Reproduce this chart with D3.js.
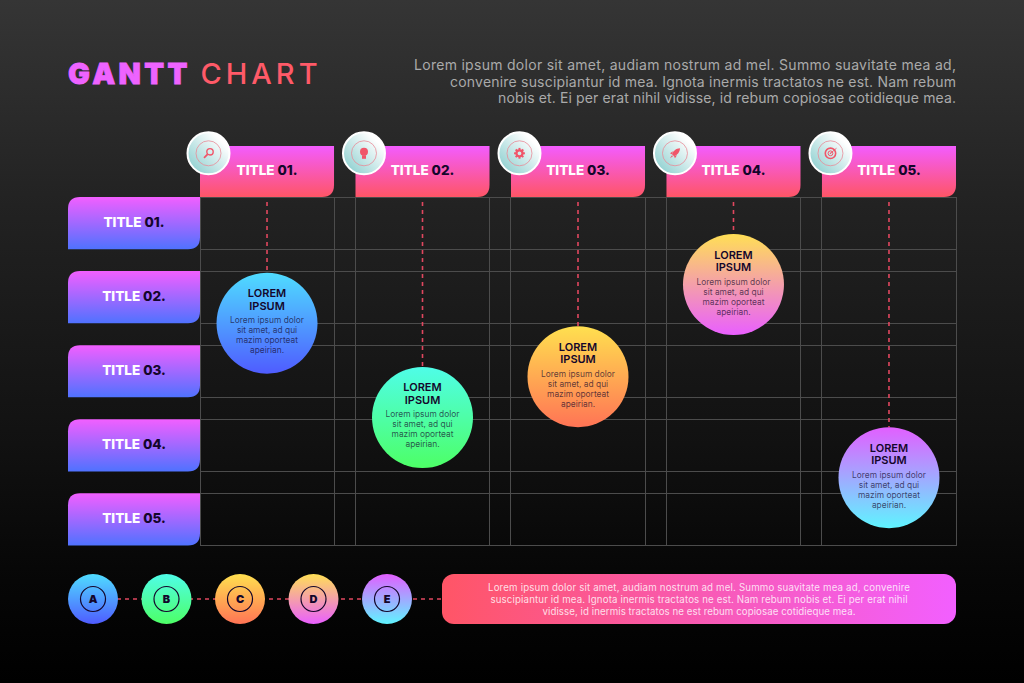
<!DOCTYPE html>
<html>
<head>
<meta charset="utf-8">
<script src="https://d3js.org/d3.v7.min.js"></script>
<style>
html, body { margin: 0; padding: 0; background: #000; }
svg { display: block; }
text { font-family: Inter, "Open Sans", sans-serif; }
</style>
</head>
<body>
<div id="svg1"></div>
<script>
var columnTitles = ["01.", "02.", "03.", "04.", "05."];
var rowTitles = ["01.", "02.", "03.", "04.", "05."];
var iconNames = ["search", "bulb", "gear", "rocket", "target"];
// where each event bubble hangs, in row units from the top of the grid
var eventRows = [1.70, 2.97, 2.42, 1.18, 3.78];
var legendLetters = ["A", "B", "C", "D", "E"];
var bubbleHeading = ["LOREM", "IPSUM"];
var bubbleBody = ["Lorem ipsum dolor", "sit amet, ad qui", "mazim oporteat", "apeirian."];
var introLines = [
    "Lorem ipsum dolor sit amet, audiam nostrum ad mel. Summo suavitate mea ad,",
    "convenire suscipiantur id mea. Ignota inermis tractatos ne est. Nam rebum",
    "nobis et. Ei per erat nihil vidisse, id rebum copiosae cotidieque mea."
];
var footerLines = [
    "Lorem ipsum dolor sit amet, audiam nostrum ad mel. Summo suavitate mea ad, convenire",
    "suscipiantur id mea. Ignota inermis tractatos ne est. Nam rebum nobis et. Ei per erat nihil",
    "vidisse, id inermis tractatos ne est rebum copiosae cotidieque mea."
];
var palettes = [
    ["#4fdcff", "#4f5cff"],
    ["#4ffde8", "#4dff66"],
    ["#ffe04f", "#ff7455"],
    ["#ffdf55", "#e95fff"],
    ["#e25fff", "#5ff4ff"]
];

var svg_hw = {width: 1024, height: 683};
var BUBBLE_R = 50.5;
var LEGEND_R = 25;
var GRID_COLOR = "#4c4c4c";
var DASH_COLOR = "#e0475f";
var DARK_TEXT = "#14062b";
// Inter runs narrower than the original face, so stretch each line to fit
var INTRO_WIDTHS = [542, 506, 458];
var FOOT_WIDTHS = [422, 417, 313];

var svg = d3.select("#svg1")
    .append("svg")
    .attr("width", svg_hw.width)
    .attr("height", svg_hw.height)
    .attr("viewBox", [0, 0, svg_hw.width, svg_hw.height]);

var defs = svg.append("defs");

function addGradient(id, from, to, x2, y2) {
    var g = defs.append("linearGradient")
        .attr("id", id)
        .attr("x1", 0).attr("y1", 0)
        .attr("x2", x2).attr("y2", y2);
    g.append("stop").attr("offset", "0%").attr("stop-color", from);
    g.append("stop").attr("offset", "100%").attr("stop-color", to);
}

palettes.forEach(function (p, i) {
    addGradient("pal" + i, p[0], p[1], 0, 1);
});
addGradient("headGrad", "#f35cff", "#ff5566", 0, 1);
addGradient("rowGrad", "#f25fff", "#4f72ff", 0, 1);
addGradient("footGrad", "#ff5566", "#f25fff", 1, 0);
addGradient("iconGrad", "#8fd0d0", "#ffffff", 1, 0);
d3.select("#iconGrad").attr("x1", 0.1).attr("y1", 0.9).attr("x2", 0.8).attr("y2", 0.2);

var bg = defs.append("linearGradient")
    .attr("id", "bgGrad")
    .attr("x1", 0).attr("y1", 0).attr("x2", 0).attr("y2", 1);
bg.append("stop").attr("offset", "0%").attr("stop-color", "#353535");
bg.append("stop").attr("offset", "30%").attr("stop-color", "#222222");
bg.append("stop").attr("offset", "65%").attr("stop-color", "#111111");
bg.append("stop").attr("offset", "85%").attr("stop-color", "#060606");
bg.append("stop").attr("offset", "100%").attr("stop-color", "#000000");

svg.append("rect")
    .attr("width", svg_hw.width)
    .attr("height", svg_hw.height)
    .attr("fill", "url(#bgGrad)");

// scales
var x = d3.scaleBand()
    .domain(columnTitles)
    .range([200, 956])
    .paddingInner(0.138);
var y = d3.scaleBand()
    .domain(rowTitles)
    .range([197, 545.5])
    .paddingInner(0.295);
var rowPos = d3.scaleLinear()
    .domain([0, 5])
    .range([197, 568.2]);
var legendX = d3.scalePoint()
    .domain(legendLetters)
    .range([93, 387]);

// rect with only some corners rounded
function tab(x0, y0, w, h, r, topLeft) {
    var p = d3.path();
    if (topLeft) {
        p.moveTo(x0 + r, y0);
    } else {
        p.moveTo(x0, y0);
    }
    p.lineTo(x0 + w, y0);
    p.lineTo(x0 + w, y0 + h - r);
    p.quadraticCurveTo(x0 + w, y0 + h, x0 + w - r, y0 + h);
    p.lineTo(x0, y0 + h);
    if (topLeft) {
        p.lineTo(x0, y0 + r);
        p.quadraticCurveTo(x0, y0, x0 + r, y0);
    }
    p.closePath();
    return p.toString();
}

// grid
var grid = svg.append("g")
    .attr("stroke", GRID_COLOR)
    .attr("stroke-width", 1)
    .attr("shape-rendering", "crispEdges");

var yEdges = [];
rowTitles.forEach(function (r) {
    yEdges.push(y(r));
    yEdges.push(y(r) + y.bandwidth());
});
var xEdges = [];
columnTitles.forEach(function (c) {
    xEdges.push(x(c));
    xEdges.push(x(c) + x.bandwidth());
});

grid.selectAll("line.h")
    .data(yEdges)
    .enter()
    .append("line")
    .attr("class", "h")
    .attr("x1", 200)
    .attr("x2", 956)
    .attr("y1", d => d)
    .attr("y2", d => d);

grid.selectAll("line.v")
    .data(xEdges)
    .enter()
    .append("line")
    .attr("class", "v")
    .attr("x1", d => d)
    .attr("x2", d => d)
    .attr("y1", 197)
    .attr("y2", 546);

// title and intro
var title = svg.append("text")
    .attr("x", 68)
    .attr("y", 84)
    .attr("font-size", 29);
title.append("tspan")
    .attr("fill", "#ee63ff")
    .attr("stroke", "#ee63ff")
    .attr("stroke-width", 0.8)
    .attr("font-weight", 900)
    .attr("letter-spacing", 3.4)
    .text("GANTT");
title.append("tspan")
    .attr("fill", "#ff5a68")
    .attr("font-weight", 500)
    .attr("letter-spacing", 4)
    .attr("dx", 9.5)
    .text("CHART");

svg.selectAll("text.intro")
    .data(introLines)
    .enter()
    .append("text")
    .attr("class", "intro")
    .attr("x", 956)
    .attr("y", (d, i) => 70 + i * 16.5)
    .attr("text-anchor", "end")
    .attr("font-size", 14)
    .attr("textLength", (d, i) => INTRO_WIDTHS[i])
    .attr("lengthAdjust", "spacing")
    .attr("fill", "#aaaaaa")
    .text(d => d);

// dashed drop lines
svg.selectAll("line.drop")
    .data(eventRows)
    .enter()
    .append("line")
    .attr("class", "drop")
    .attr("x1", (d, i) => x(columnTitles[i]) + x.bandwidth() / 2)
    .attr("x2", (d, i) => x(columnTitles[i]) + x.bandwidth() / 2)
    .attr("y1", 202)
    .attr("y2", d => rowPos(d) - BUBBLE_R)
    .attr("stroke", DASH_COLOR)
    .attr("stroke-width", 1.6)
    .attr("stroke-dasharray", "4 4");

// column headers
var heads = svg.selectAll("g.head")
    .data(columnTitles)
    .enter()
    .append("g")
    .attr("class", "head")
    .attr("transform", d => "translate(" + x(d) + ",146)");

heads.append("path")
    .attr("d", tab(0, 0, x.bandwidth(), 51, 12, false))
    .attr("fill", "url(#headGrad)");

var headText = heads.append("text")
    .attr("x", x.bandwidth() / 2)
    .attr("y", 29)
    .attr("text-anchor", "middle")
    .attr("font-size", 13.5)
    .attr("font-weight", 800);
headText.append("tspan").attr("fill", "#ffffff").text("TITLE ");
headText.append("tspan").attr("fill", DARK_TEXT).text(d => d);

// icon badges
var badges = heads.append("g")
    .attr("transform", "translate(8.5,7.3)");
badges.append("circle")
    .attr("r", 21)
    .attr("fill", "url(#iconGrad)")
    .attr("stroke", "#ffffff")
    .attr("stroke-width", 2);
badges.append("circle")
    .attr("r", 12.5)
    .attr("fill", "none")
    .attr("stroke", "#e98c98")
    .attr("stroke-width", 0.8);

function drawIcon(g, name) {
    var red = "#f0566a";
    if (name == "search") {
        g.append("circle").attr("cx", 1.5).attr("cy", -1.5).attr("r", 3.2)
            .attr("fill", "none").attr("stroke", red).attr("stroke-width", 1.4);
        g.append("line").attr("x1", -0.8).attr("y1", 0.8).attr("x2", -4.5).attr("y2", 4.5)
            .attr("stroke", red).attr("stroke-width", 1.8);
    } else if (name == "bulb") {
        g.append("circle").attr("cy", -1.5).attr("r", 4).attr("fill", red);
        g.append("rect").attr("x", -2).attr("y", 2).attr("width", 4).attr("height", 3.5).attr("fill", red);
    } else if (name == "gear") {
        g.append("circle").attr("r", 3).attr("fill", "none").attr("stroke", red).attr("stroke-width", 2.2);
        d3.range(8).forEach(function (k) {
            g.append("rect").attr("x", -1).attr("y", -5.4).attr("width", 2).attr("height", 2)
                .attr("fill", red).attr("transform", "rotate(" + k * 45 + ")");
        });
    } else if (name == "rocket") {
        g.append("path").attr("d", "M5,-5 C1,-5 -2,-2 -3,1 L-1,3 C2,2 5,-1 5,-5 Z").attr("fill", red);
        g.append("path").attr("d", "M-5,0 L-2,-2 L-3,1 Z M0,5 L2,2 L-1,3 Z M-5,5 L-3,2 L-2,3 Z").attr("fill", red);
    } else {
        g.append("circle").attr("r", 5.2).attr("fill", "none").attr("stroke", red).attr("stroke-width", 1.6);
        g.append("circle").attr("r", 2.4).attr("fill", "none").attr("stroke", red).attr("stroke-width", 1);
        g.append("circle").attr("r", 0.8).attr("fill", red);
        g.append("line").attr("x1", 0).attr("y1", 0).attr("x2", 6).attr("y2", -5)
            .attr("stroke", red).attr("stroke-width", 0.9);
    }
}
badges.each(function (d, i) {
    drawIcon(d3.select(this), iconNames[i]);
});

// row labels
var rows = svg.selectAll("g.row")
    .data(rowTitles)
    .enter()
    .append("g")
    .attr("class", "row")
    .attr("transform", d => "translate(68," + y(d) + ")");

rows.append("path")
    .attr("d", tab(0, 0, 132, y.bandwidth(), 12, true))
    .attr("fill", "url(#rowGrad)");

var rowText = rows.append("text")
    .attr("x", 66)
    .attr("y", 30)
    .attr("text-anchor", "middle")
    .attr("font-size", 13.5)
    .attr("font-weight", 800);
rowText.append("tspan").attr("fill", "#ffffff").text("TITLE ");
rowText.append("tspan").attr("fill", DARK_TEXT).text(d => d);

// event bubbles
var bubbles = svg.selectAll("g.bubble")
    .data(eventRows)
    .enter()
    .append("g")
    .attr("class", "bubble")
    .attr("transform", (d, i) => "translate(" + (x(columnTitles[i]) + x.bandwidth() / 2) + "," + rowPos(d) + ")");

bubbles.append("circle")
    .attr("r", BUBBLE_R)
    .attr("fill", (d, i) => "url(#pal" + i + ")");

bubbleHeading.forEach(function (line, k) {
    bubbles.append("text")
        .attr("y", -26 + k * 12.3)
        .attr("text-anchor", "middle")
        .attr("font-size", 11)
        .attr("font-weight", 600)
        .attr("fill", DARK_TEXT)
        .text(line);
});
bubbleBody.forEach(function (line, k) {
    bubbles.append("text")
        .attr("y", 0 + k * 10)
        .attr("text-anchor", "middle")
        .attr("font-size", 8.4)
        .attr("fill", DARK_TEXT)
        .attr("fill-opacity", 0.7)
        .text(line);
});

// legend
svg.append("line")
    .attr("x1", legendX("A"))
    .attr("x2", 442)
    .attr("y1", 599)
    .attr("y2", 599)
    .attr("stroke", DASH_COLOR)
    .attr("stroke-width", 1.6)
    .attr("stroke-dasharray", "4 4");

var legend = svg.selectAll("g.legend")
    .data(legendLetters)
    .enter()
    .append("g")
    .attr("class", "legend")
    .attr("transform", d => "translate(" + legendX(d) + ",599)");

legend.append("circle")
    .attr("r", LEGEND_R)
    .attr("fill", (d, i) => "url(#pal" + i + ")");
legend.append("circle")
    .attr("r", 12.5)
    .attr("fill", "none")
    .attr("stroke", DARK_TEXT)
    .attr("stroke-width", 1.2);
legend.append("text")
    .attr("y", 4)
    .attr("text-anchor", "middle")
    .attr("font-size", 11)
    .attr("font-weight", 900)
    .attr("fill", DARK_TEXT)
    .text(d => d);

// footer box
svg.append("rect")
    .attr("x", 442)
    .attr("y", 574)
    .attr("width", 514)
    .attr("height", 50)
    .attr("rx", 12)
    .attr("fill", "url(#footGrad)");

svg.selectAll("text.foot")
    .data(footerLines)
    .enter()
    .append("text")
    .attr("class", "foot")
    .attr("x", 699)
    .attr("y", (d, i) => 590.5 + i * 12.2)
    .attr("text-anchor", "middle")
    .attr("font-size", 9.7)
    .attr("textLength", (d, i) => FOOT_WIDTHS[i])
    .attr("lengthAdjust", "spacing")
    .attr("fill", "#ffffff")
    .attr("fill-opacity", 0.82)
    .text(d => d);
</script>
</body>
</html>
